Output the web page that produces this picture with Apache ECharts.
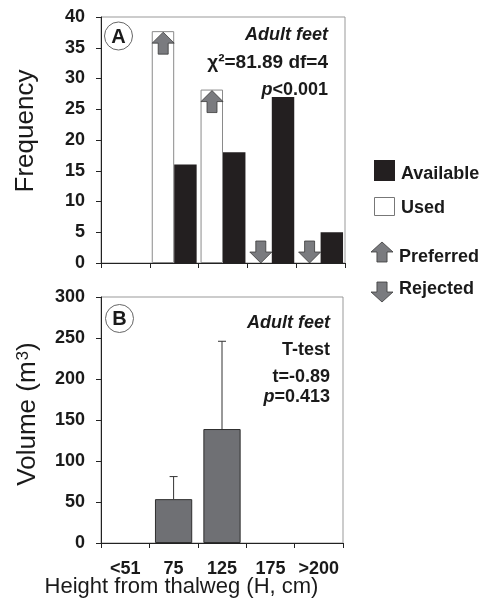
<!DOCTYPE html>
<html>
<head>
<meta charset="utf-8">
<script src="https://cdn.jsdelivr.net/npm/echarts@6/dist/echarts.min.js"></script>
<style>html,body{margin:0;padding:0;background:#fff}#c{width:491px;height:610px}</style>
</head>
<body>
<div id="c"></div>
<script>
const categories = ['<51', '75', '125', '175', '>200'];
const usedFreq = [0, 37.7, 28.2, 0, 0];
const availableFreq = [0, 16, 18, 27, 5];
const selection = ['', 'Preferred', 'Preferred', 'Rejected', 'Rejected'];
const volumeMean = [null, 53.5, 139, null, null];
const volumeUpper = [null, 81, 246, null, null];

const FONT = '"Liberation Sans", Arial, Helvetica, sans-serif';
const UP = 'path://M11,0 L22,11 L16,11 L16,22 L6,22 L6,11 L0,11 Z';
const DOWN = 'path://M6,0 L16,0 L16,11 L22,11 L11,22 L0,11 L6,11 Z';
const ARROW_FILL = '#7a7b7f';

const arrowData = [];
selection.forEach((s, i) => {
  if (s === 'Preferred') arrowData.push({ value: [i, usedFreq[i]], symbol: UP, symbolOffset: [-11, 12] });
  if (s === 'Rejected') arrowData.push({ value: [i, 0], symbol: DOWN, symbolOffset: [-11, -11] });
});
const usedData = usedFreq.map(v => v > 0 ? v : { value: v, itemStyle: { borderWidth: 0 } });
const errData = [];
volumeMean.forEach((m, i) => { if (m != null) errData.push([i, m, volumeUpper[i]]); });

const axisLine = { show: true, lineStyle: { color: '#222', width: 1 } };
const axisTick = { show: true, length: 5, lineStyle: { color: '#222', width: 1 } };
const tickLabel = { fontFamily: FONT, fontWeight: 'bold', fontSize: 18, color: '#1a1a1a' };

function upPoly(x, y, w, h) {
  return [[x + w / 2, y], [x + w, y + h / 2], [x + w * 0.73, y + h / 2], [x + w * 0.73, y + h], [x + w * 0.27, y + h], [x + w * 0.27, y + h / 2], [x, y + h / 2]];
}
function downPoly(x, y, w, h) {
  return [[x + w * 0.27, y], [x + w * 0.73, y], [x + w * 0.73, y + h / 2], [x + w, y + h / 2], [x + w / 2, y + h], [x, y + h / 2], [x + w * 0.27, y + h / 2]];
}
const txt = (x, y, text, o, extra) => Object.assign({ type: 'text', x, y, z: 20, style: Object.assign({ text, fontFamily: FONT, fontWeight: 'bold', fontSize: 18, fill: '#1a1a1a', align: 'right', verticalAlign: 'middle' }, o || {}) }, extra || {});
const italicP = { i: { fontStyle: 'italic', fontFamily: FONT, fontWeight: 'bold', fontSize: 18, fill: '#1a1a1a' } };

const chart = echarts.init(document.getElementById('c'), null, { renderer: 'canvas' });
chart.setOption({
  animation: false,
  backgroundColor: '#fff',
  grid: [
    { left: 101, right: 146, top: 17, bottom: 347, show: true, borderColor: '#999', borderWidth: 1 },
    { left: 101, right: 148, top: 297, bottom: 67, show: true, borderColor: '#999', borderWidth: 1 }
  ],
  xAxis: [
    { type: 'category', gridIndex: 0, data: categories, axisLine, axisTick, axisLabel: { show: false }, splitLine: { show: false } },
    { type: 'category', gridIndex: 1, data: categories, axisLine, axisTick, axisLabel: Object.assign({ margin: 17, interval: 0 }, tickLabel), splitLine: { show: false } }
  ],
  yAxis: [
    { type: 'value', gridIndex: 0, min: 0, max: 40, interval: 5, axisLine, axisTick, axisLabel: Object.assign({ margin: 16 }, tickLabel), splitLine: { show: false } },
    { type: 'value', gridIndex: 1, min: 0, max: 300, interval: 50, axisLine, axisTick, axisLabel: Object.assign({ margin: 16 }, tickLabel), splitLine: { show: false } }
  ],
  series: [
    { name: 'Used', type: 'bar', xAxisIndex: 0, yAxisIndex: 0, data: usedData, barGap: '0%', barCategoryGap: '8%',
      itemStyle: { color: '#fff', borderColor: '#8a8a8a', borderWidth: 1 } },
    { name: 'Available', type: 'bar', xAxisIndex: 0, yAxisIndex: 0, data: availableFreq,
      itemStyle: { color: '#231f20' } },
    { name: 'Selection', type: 'scatter', xAxisIndex: 0, yAxisIndex: 0, data: arrowData, symbolSize: [22, 22], z: 5,
      itemStyle: { color: ARROW_FILL, borderColor: '#3a3a3a', borderWidth: 0.8, opacity: 1 } },
    { name: 'Volume', type: 'bar', xAxisIndex: 1, yAxisIndex: 1, data: volumeMean, barCategoryGap: '23%',
      itemStyle: { color: '#6f7074', borderColor: '#2e2e2e', borderWidth: 1 } },
    { name: 'Error', type: 'custom', xAxisIndex: 1, yAxisIndex: 1, data: errData, z: 5,
      renderItem(params, api) {
        const p0 = api.coord([api.value(0), api.value(1)]);
        const p1 = api.coord([api.value(0), api.value(2)]);
        const st = { stroke: '#333', lineWidth: 1 };
        return { type: 'group', children: [
          { type: 'line', shape: { x1: p0[0], y1: p0[1], x2: p1[0], y2: p1[1] }, style: st },
          { type: 'line', shape: { x1: p1[0] - 4, y1: p1[1], x2: p1[0] + 4, y2: p1[1] }, style: st }
        ] };
      } }
  ],
  graphic: [
    txt(26, 131, 'Frequency', { fontWeight: 'normal', fontSize: 26, align: 'center' }, { rotation: Math.PI / 2 }),
    txt(28, 414, 'Volume (m{s|3})', { fontWeight: 'normal', fontSize: 26, align: 'center',
      rich: { s: { fontFamily: FONT, fontSize: 17, fill: '#1a1a1a', verticalAlign: 'top', padding: [0, 0, 0, 1] } } }, { rotation: Math.PI / 2 }),
    txt(181.5, 587, 'Height from thalweg (H, cm)', { fontWeight: 'normal', fontSize: 22, align: 'center' }),
    // panel A annotations
    { type: 'circle', z: 10, shape: { cx: 118.5, cy: 36, r: 14 }, style: { fill: '#fff', stroke: '#666', lineWidth: 1 } },
    txt(118.5, 37, 'A', { align: 'center', fontSize: 20, fontWeight: 900 }),
    txt(328, 35, 'Adult feet', { fontStyle: 'italic' }),
    txt(328, 63, 'χ²=81.89 df=4', { fontSize: 19 }),
    txt(328, 90, '{i|p}<0.001', { rich: italicP }),
    // panel B annotations
    { type: 'circle', z: 10, shape: { cx: 119.5, cy: 318.5, r: 14 }, style: { fill: '#fff', stroke: '#666', lineWidth: 1 } },
    txt(119.5, 319.5, 'B', { align: 'center', fontSize: 20, fontWeight: 900 }),
    txt(330, 323, 'Adult feet', { fontStyle: 'italic' }),
    txt(330, 350, 'T-test'),
    txt(330, 377, 't=-0.89'),
    txt(330, 397, '{i|p}=0.413', { rich: italicP }),
    // legend
    { type: 'rect', shape: { x: 374, y: 160, width: 21, height: 21 }, style: { fill: '#231f20' } },
    txt(401, 174, 'Available', { align: 'left' }),
    { type: 'rect', shape: { x: 374.5, y: 197.5, width: 20, height: 18 }, style: { fill: '#fff', stroke: '#777', lineWidth: 1 } },
    txt(401, 208, 'Used', { align: 'left' }),
    { type: 'polygon', shape: { points: upPoly(371, 242, 22, 20) }, style: { fill: ARROW_FILL, stroke: '#3a3a3a', lineWidth: 0.8 } },
    txt(399, 257, 'Preferred', { align: 'left' }),
    { type: 'polygon', shape: { points: downPoly(371, 282, 22, 20) }, style: { fill: ARROW_FILL, stroke: '#3a3a3a', lineWidth: 0.8 } },
    txt(399, 289, 'Rejected', { align: 'left' })
  ]
});
</script>
</body>
</html>
